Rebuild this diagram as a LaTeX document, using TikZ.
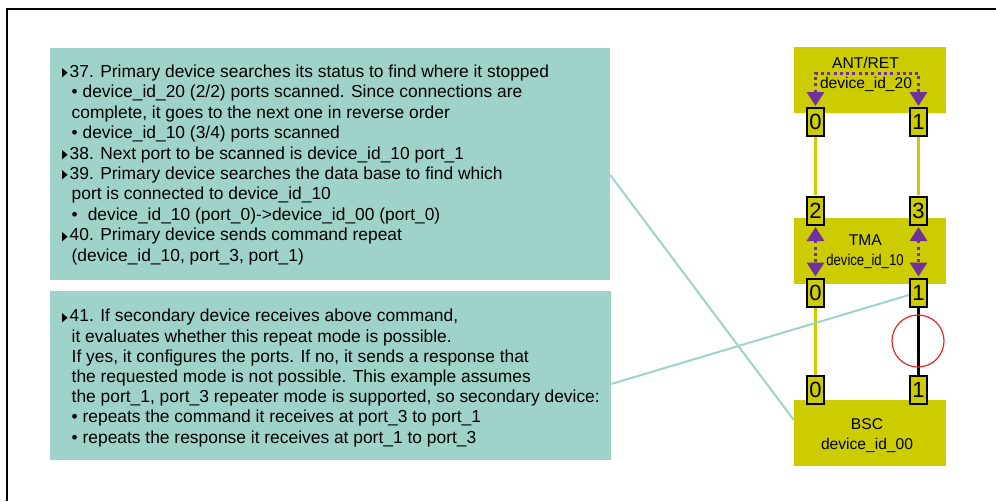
\documentclass[tikz,border=0pt]{standalone}
\usepackage{fontspec}
\usepackage{graphicx}
\setmainfont{Liberation Sans}
\newfontfamily\symfont{DejaVu Sans}
\usetikzlibrary{arrows.meta}

\definecolor{notefill}{RGB}{159,211,201}
\definecolor{devfill}{RGB}{204,204,0}
\definecolor{linkpurple}{RGB}{112,48,160}
\definecolor{faultred}{RGB}{228,40,40}

% small right-pointing marker used at the start of each step
\newcommand\notetri{\makebox[7.5pt][l]{\raisebox{0.5pt}{\scalebox{0.62}[1.05]{\symfont\fontsize{12}{12}\selectfont ▶}}}}
\newcommand\noteindent{\hspace*{9.5pt}}

\begin{document}
\begin{tikzpicture}[x=1pt,y=-1pt,
  notebox/.style={fill=notefill, draw=none, inner sep=0pt},
  notetext/.style={anchor=base west, align=left, inner sep=0pt,
    font=\fontsize{17.4}{20.4}\selectfont},
  devbox/.style={fill=devfill, draw=none, inner sep=0pt,
    minimum width=152pt, minimum height=66pt},
  devlabel/.style={inner sep=0pt, text height=11.2pt, text depth=0pt,
    font=\fontsize{15.6}{18}\selectfont},
  portbox/.style={fill=devfill, draw=black, line width=2pt, inner sep=0pt,
    minimum width=17pt, minimum height=28pt,
    font=\fontsize{22}{22}\selectfont},
  yellowlink/.style={draw=devfill, line width=3pt},
  blacklink/.style={draw=black, line width=3pt},
  purplelink/.style={draw=linkpurple, line width=3pt,
    dash pattern=on 3pt off 3.3pt,
    {Triangle[width=17pt,length=14pt]}-{Triangle[width=17pt,length=14pt]}},
  callout/.style={draw=notefill, line width=2pt},
  faultring/.style={draw=faultred, line width=1.2pt, circle,
    minimum size=52pt, inner sep=0pt}
]
\useasboundingbox (0,0) rectangle (996,501);

% frame
\draw[line width=2pt] (6.5,501) -- (6.5,8.5) -- (996,8.5);

% explanatory notes
\node[notebox, minimum width=560pt, minimum height=232pt] (note1) at (330,164) {};
\node[notebox, minimum width=561pt, minimum height=169pt] (note2) at (330.5,375.5) {};

% the base anchor of a multi-line node sits on its last line
\node[notetext] (text1) at (62,261) {%
\notetri 37. Primary device searches its status to find where it stopped\\
\noteindent• device\_id\_20 (2/2) ports scanned. Since connections are\\
\noteindent complete, it goes to the next one in reverse order\\
\noteindent• device\_id\_10 (3/4) ports scanned\\
\notetri 38. Next port to be scanned is device\_id\_10 port\_1\\
\notetri 39. Primary device searches the data base to find which\\
\noteindent port is connected to device\_id\_10\\
\noteindent•\hspace{10pt}device\_id\_10 (port\_0)->device\_id\_00 (port\_0)\\
\notetri 40. Primary device sends command repeat\\
\noteindent(device\_id\_10, port\_3, port\_1)};

\node[notetext, font=\fontsize{17.4}{20.2}\selectfont] (text2) at (62,443) {%
\notetri 41. If secondary device receives above command,\\
\noteindent it evaluates whether this repeat mode is possible.\\
\noteindent If yes, it configures the ports. If no, it sends a response that\\
\noteindent the requested mode is not possible. This example assumes\\
\noteindent the port\_1, port\_3 repeater mode is supported, so secondary device:\\
\noteindent• repeats the command it receives at port\_3 to port\_1\\
\noteindent• repeats the response it receives at port\_1 to port\_3};

% devices
\node[devbox] (ant) at (870,80) {};
\node[devbox] (tma) at (870,251) {};
\node[devbox] (bsc) at (870,433) {};

\node[devlabel] (antname) at (865.5,63) {ANT/RET};
\node[devlabel] (antid) at (866,83) {device\_id\_20};
\node[devlabel] (tmaname) at (865.3,240) {TMA};
\node[devlabel] (tmaid) at (865,260) {\scalebox{0.84}[1]{device\_id\_10}};
\node[devlabel] (bscname) at (867,424) {BSC};
\node[devlabel] (bscid) at (867,444) {device\_id\_00};

% links between ports
\draw[yellowlink] (815.5,137) -- (815.5,195);
\draw[yellowlink] (918.5,137) -- (918.5,195);
\draw[yellowlink] (815.5,308) -- (815.5,375);
\draw[blacklink] (918.5,308) -- (918.5,375);

% ports
\node[portbox] (a0) at (815.5,122) {0};
\node[portbox] (a1) at (918.5,122) {1};
\node[portbox] (t2) at (815.5,211) {2};
\node[portbox] (t3) at (918.5,211) {3};
\node[portbox] (t0) at (815.5,292.5) {0};
\node[portbox] (t1) at (918.5,292.5) {1};
\node[portbox] (b0) at (815.5,390) {0};
\node[portbox] (b1) at (918.5,390) {1};

% repeat paths
\coordinate (antrow) at (867,73);
\draw[purplelink] ([yshift=1pt]a0.north) |- (antrow) -| ([yshift=1pt]a1.north);
\draw[purplelink] ([yshift=-1pt]t2.south) -- ([yshift=1pt]t0.north);
\draw[purplelink] ([yshift=-1pt]t3.south) -- ([yshift=1pt]t1.north);

% fault marker on the port_1 link
\node[faultring] (fault) at (918,341) {};

% callouts from notes
\draw[callout] ([yshift=-11pt]note1.east) -- ([yshift=13pt]bsc.west);
\draw[callout] ([yshift=-8.5pt]note2.east) -- ([yshift=-2.5pt]t1.west);
\end{tikzpicture}
\end{document}
